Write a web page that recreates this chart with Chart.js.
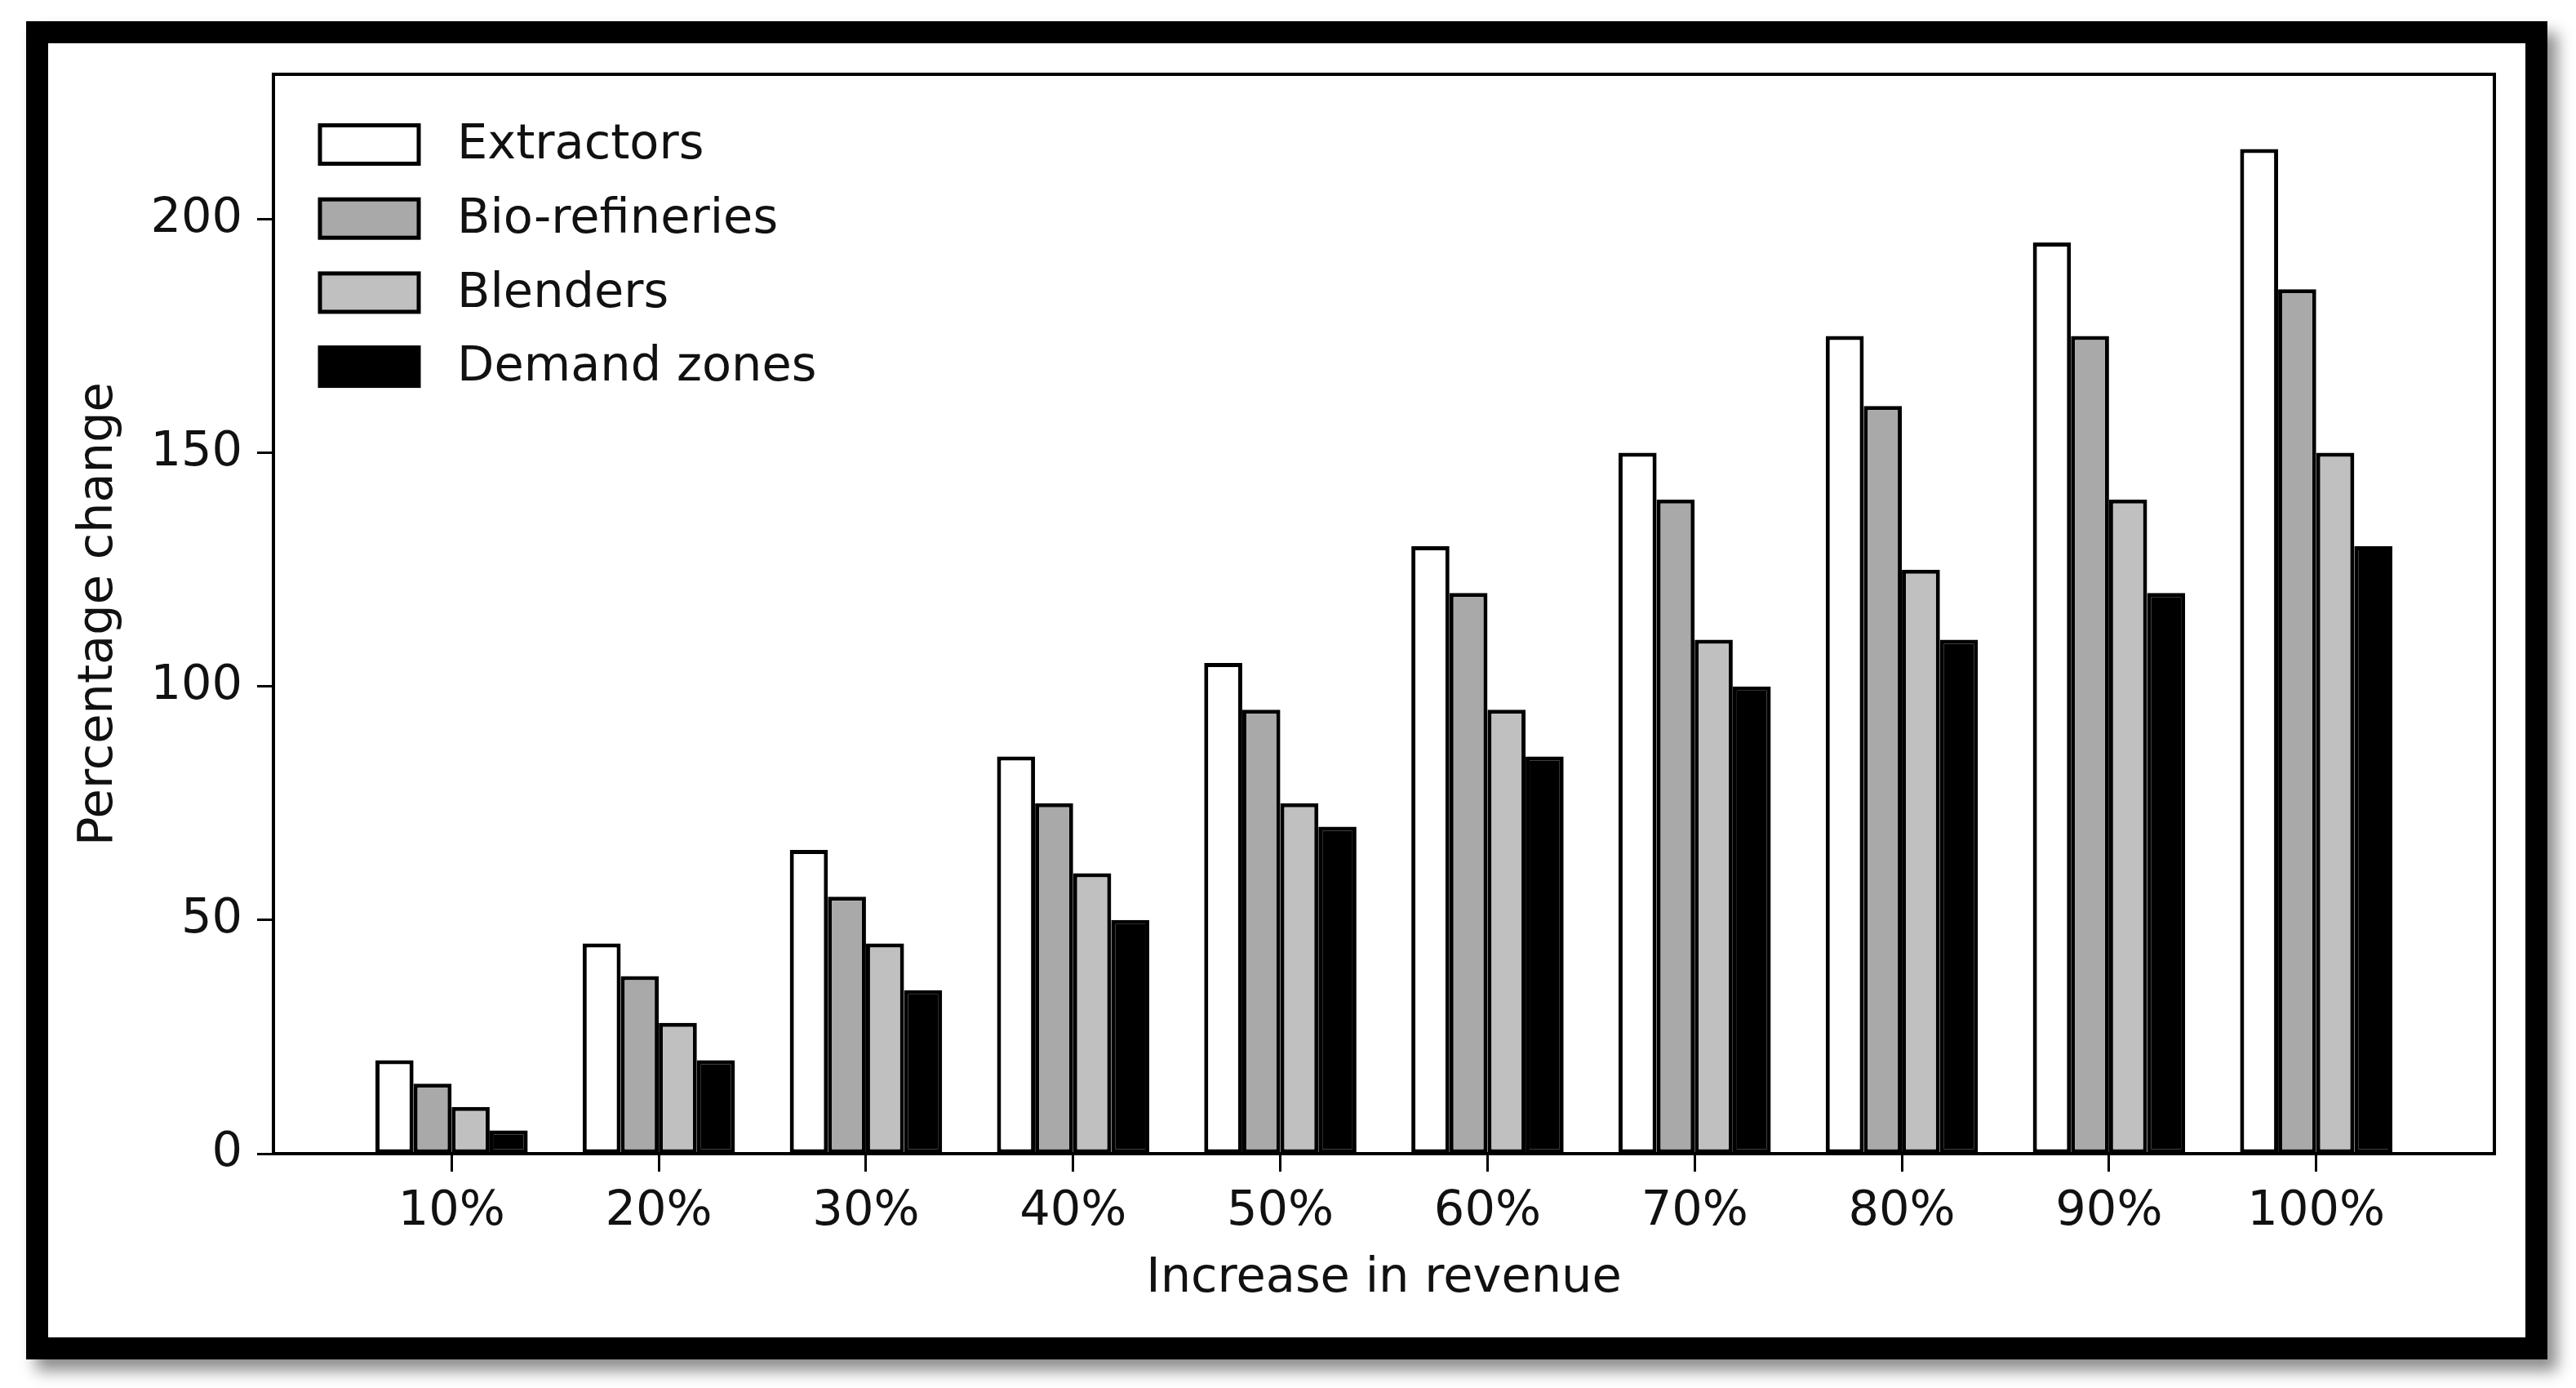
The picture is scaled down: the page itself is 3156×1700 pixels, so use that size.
<!DOCTYPE html>
<html>
<head>
<meta charset="utf-8">
<script src="https://cdn.jsdelivr.net/npm/chart.js@4.4.1/dist/chart.umd.min.js"></script>
<style>
  html, body { margin: 0; padding: 0; background: #fff; }
  #frame {
    position: absolute;
    left: 32px;
    top: 26px;
    width: 3035px;
    height: 1585px;
    border: 27px solid #000;
    background: #fff;
    box-shadow: 12px 14px 18px rgba(0, 0, 0, 0.45);
  }
  canvas { display: block; }
</style>
</head>
<body>
<div id="frame">
  <canvas id="revenueChart" width="3035" height="1585"></canvas>
</div>
<script>
// categories on the x axis
const categories = ['10%', '20%', '30%', '40%', '50%', '60%', '70%', '80%', '90%', '100%'];
const positions = [1, 2, 3, 4, 5, 6, 7, 8, 9, 10];

// series values (percentage change)
const extractors = [20, 45, 65, 85, 105, 130, 150, 175, 195, 215];
const bioRefineries = [15, 38, 55, 75, 95, 120, 140, 160, 175, 185];
const blenders = [10, 28, 45, 60, 75, 95, 110, 125, 140, 150];
const demandZones = [5, 20, 35, 50, 70, 85, 100, 110, 120, 130];

const yTicks = [0, 50, 100, 150, 200];

const FONT = "'DejaVu Sans', sans-serif";
const INK = '#111';

// plot frame (top + right sides too, like matplotlib spines)
const framePlugin = {
    id: 'frame',
    afterDatasetsDraw(chart) {
        const a = chart.chartArea;
        const ctx = chart.ctx;
        ctx.save();
        ctx.strokeStyle = '#000';
        ctx.lineWidth = 4;
        ctx.strokeRect(a.left, a.top, a.right - a.left, a.bottom - a.top);
        ctx.restore();
    }
};

// legend drawn inside the plot, top-left, stacked vertically
const boxLegendPlugin = {
    id: 'boxLegend',
    afterDraw(chart) {
        const ctx = chart.ctx;
        const a = chart.chartArea;
        const boxX = a.left + 57;
        const boxW = 121;
        const boxH = 47;
        const firstY = a.top + 86;
        const step = 90.7;
        ctx.save();
        ctx.font = '59px ' + FONT;
        ctx.textBaseline = 'middle';
        ctx.textAlign = 'left';
        chart.data.datasets.forEach((ds, i) => {
            const cy = firstY + i * step;
            ctx.fillStyle = ds.backgroundColor;
            ctx.fillRect(boxX, cy - boxH / 2, boxW, boxH);
            ctx.strokeStyle = '#000';
            ctx.lineWidth = 5;
            ctx.strokeRect(boxX, cy - boxH / 2, boxW, boxH);
            ctx.fillStyle = INK;
            ctx.fillText(ds.label, boxX + 168, cy + 2);
        });
        ctx.restore();
    }
};

const ctx = document.getElementById('revenueChart').getContext('2d');
new Chart(ctx, {
    type: 'bar',
    data: {
        labels: positions,
        datasets: [
            { label: 'Extractors', data: extractors, backgroundColor: '#ffffff' },
            { label: 'Bio-refineries', data: bioRefineries, backgroundColor: '#a9a9a9' },
            { label: 'Blenders', data: blenders, backgroundColor: '#c0c0c0' },
            { label: 'Demand zones', data: demandZones, backgroundColor: '#000000' },
        ]
    },
    options: {
        responsive: false,
        devicePixelRatio: 1,
        animation: false,
        layout: {
            padding: { left: 0, right: 38, top: 38, bottom: 0 }
        },
        datasets: {
            bar: {
                borderColor: '#000',
                borderWidth: 5,
                borderSkipped: false,
                categoryPercentage: 0.735,
                barPercentage: 1.0,
            }
        },
        scales: {
            x: {
                type: 'linear',
                min: 0.14,
                max: 10.86,
                offset: false,
                afterBuildTicks(scale) {
                    scale.ticks = positions.map(v => ({ value: v }));
                },
                afterFit(scale) {
                    scale.height = 225;
                    scale.paddingLeft = 0;
                    scale.paddingRight = 0;
                },
                grid: {
                    display: true,
                    offset: false,
                    drawOnChartArea: false,
                    drawTicks: true,
                    tickLength: 22,
                    tickWidth: 3,
                    tickColor: '#000',
                },
                border: { display: true, color: '#000', width: 4 },
                ticks: {
                    autoSkip: false,
                    maxRotation: 0,
                    padding: 14,
                    color: INK,
                    font: { family: FONT, size: 59 },
                    callback: (value) => categories[positions.indexOf(value)],
                },
                title: {
                    display: true,
                    text: 'Increase in revenue',
                    color: INK,
                    font: { family: FONT, size: 59 },
                    padding: { top: 0, bottom: 36 },
                }
            },
            y: {
                min: 0,
                max: 231,
                afterBuildTicks(scale) {
                    scale.ticks = yTicks.map(v => ({ value: v }));
                },
                afterFit(scale) {
                    scale.width = 276;
                    scale.paddingTop = 0;
                    scale.paddingBottom = 0;
                },
                grid: {
                    display: true,
                    drawOnChartArea: false,
                    drawTicks: true,
                    tickLength: 20,
                    tickWidth: 3,
                    tickColor: '#000',
                },
                border: { display: true, color: '#000', width: 4 },
                ticks: {
                    padding: 18,
                    color: INK,
                    font: { family: FONT, size: 59 },
                },
                title: {
                    display: true,
                    text: 'Percentage change',
                    color: INK,
                    font: { family: FONT, size: 59 },
                    padding: { top: 27, bottom: 0 },
                }
            }
        },
        plugins: {
            legend: { display: false },
            tooltip: { enabled: false },
        }
    },
    plugins: [framePlugin, boxLegendPlugin]
});
</script>
</body>
</html>
